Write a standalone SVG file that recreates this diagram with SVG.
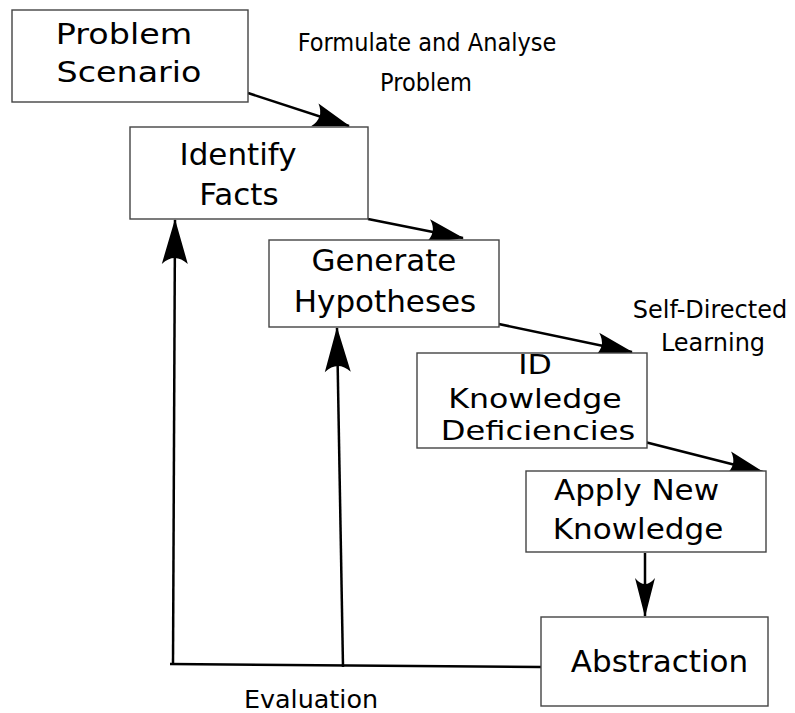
<svg xmlns="http://www.w3.org/2000/svg" width="795" height="713" viewBox="0 0 795 713">
<defs>
<style>
.box{fill:#fff;stroke:#444;stroke-width:1.4}
.t{font-family:"DejaVu Sans",sans-serif;font-size:31px;fill:#000;text-anchor:middle}
.t29{font-size:29px}
.t27{font-size:27px}
.lbl{font-family:"DejaVu Sans",sans-serif;font-size:24px;fill:#000;text-anchor:middle}
.cond{font-family:"DejaVu Sans Condensed","DejaVu Sans",sans-serif;font-stretch:condensed;font-size:25px;fill:#000;text-anchor:middle}
.ln{fill:none;stroke:#000;stroke-width:2.5}
</style>
<marker id="am" markerUnits="userSpaceOnUse" viewBox="-40 -14 42 28" refX="0" refY="0" markerWidth="42" markerHeight="28" orient="auto" overflow="visible">
<path d="M1,0 L-36,-12 Q-26,0 -36,12 Z" fill="#000"/>
</marker>
<marker id="al" markerUnits="userSpaceOnUse" viewBox="-46 -14 48 28" refX="0" refY="0" markerWidth="48" markerHeight="28" orient="auto" overflow="visible">
<path d="M1,0 L-44,-13 Q-32,0 -44,13 Z" fill="#000"/>
</marker>
<marker id="as" markerUnits="userSpaceOnUse" viewBox="-40 -12 42 24" refX="0" refY="0" markerWidth="42" markerHeight="24" orient="auto" overflow="visible">
<path d="M1,0 L-38,-10 Q-26,0 -38,10 Z" fill="#000"/>
</marker>
</defs>
<rect width="795" height="713" fill="#fff"/>
<g id="connectors">
<line class="ln" x1="248" y1="93" x2="349" y2="126" marker-end="url(#am)"/>
<line class="ln" x1="368" y1="219" x2="463" y2="238" marker-end="url(#am)"/>
<line class="ln" x1="494" y1="323" x2="632" y2="352" marker-end="url(#am)"/>
<line class="ln" x1="637" y1="440" x2="763" y2="472" marker-end="url(#am)"/>
<line class="ln" x1="645" y1="553" x2="645" y2="616" marker-end="url(#as)"/>
<line class="ln" x1="170" y1="664" x2="541" y2="667"/>
<line class="ln" x1="173" y1="665" x2="175" y2="220" marker-end="url(#al)"/>
<line class="ln" x1="343" y1="667" x2="337" y2="328" marker-end="url(#al)"/>
</g>
<g id="problem-scenario">
<rect class="box" x="12" y="10" width="236" height="92"/>
<text class="t t29" transform="translate(124,44) scale(1.15,1)">Problem</text>
<text class="t t29" transform="translate(129,82) scale(1.15,1)">Scenario</text>
</g>
<g id="identify-facts">
<rect class="box" x="130" y="127" width="238" height="92"/>
<text class="t" x="238" y="165">Identify</text>
<text class="t" x="239" y="205">Facts</text>
</g>
<g id="generate-hypotheses">
<rect class="box" x="269" y="240" width="230" height="87"/>
<text class="t" x="384" y="271">Generate</text>
<text class="t" x="385" y="312">Hypotheses</text>
</g>
<g id="id-knowledge">
<rect class="box" x="417" y="353" width="230" height="95"/>
<text class="t t27" transform="translate(535,374) scale(1.17,1)">ID</text>
<text class="t t27" transform="translate(535,408) scale(1.17,1)">Knowledge</text>
<text class="t t27" transform="translate(538,440) scale(1.19,1)">Deficiencies</text>
</g>
<g id="apply-knowledge">
<rect class="box" x="526" y="471" width="240" height="81"/>
<text class="t t29" transform="translate(636.5,500) scale(1.07,1)">Apply New</text>
<text class="t t29" transform="translate(638,539) scale(1.07,1)">Knowledge</text>
</g>
<g id="abstraction">
<rect class="box" x="541" y="617" width="227" height="89"/>
<text class="t" x="659.5" y="672">Abstraction</text>
</g>
<g id="labels">
<text class="cond" x="427" y="51">Formulate and Analyse</text>
<text class="cond" x="426" y="91">Problem</text>
<text class="lbl" x="710" y="318">Self-Directed</text>
<text class="lbl" x="713" y="351">Learning</text>
<text class="lbl" transform="translate(311,708) scale(1.06,1)">Evaluation</text>
</g>
</svg>
